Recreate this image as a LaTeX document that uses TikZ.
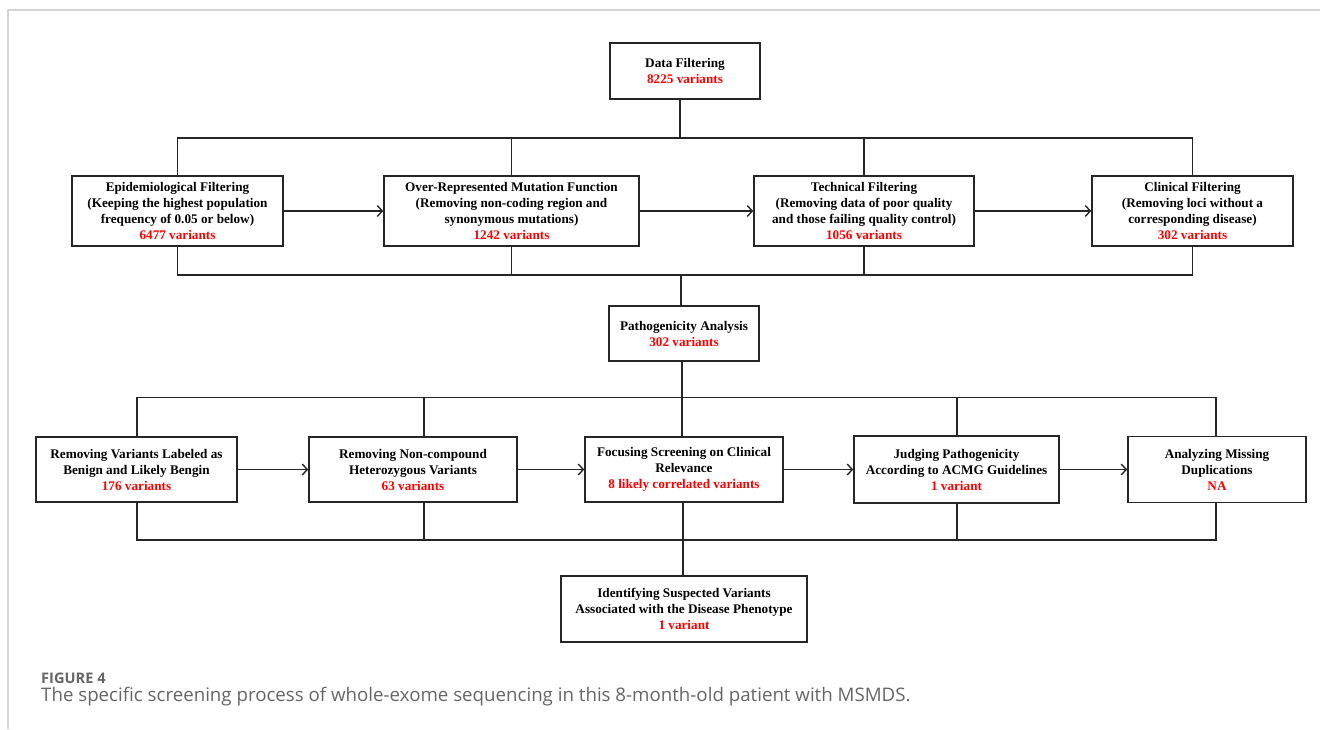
\documentclass[tikz,border=0pt]{standalone}
\usepackage{fontspec}
\setmainfont{Liberation Serif}
\newfontfamily\capfont{Open Sans}
\usetikzlibrary{arrows.meta,calc}
\definecolor{capgray}{HTML}{666666}
\definecolor{framegray}{HTML}{D4D4D4}
\definecolor{numred}{HTML}{FF0000}
\begin{document}
\begin{tikzpicture}[x=1pt,y=-1pt,
  box/.style={draw=black!85,line width=1.6pt,align=center,inner sep=0pt,
    font=\bfseries\fontsize{13.2}{16}\selectfont},
  conn/.style={draw=black!85,line width=1.5pt},
  arr/.style={draw=black!85,line width=1.5pt,-{Straight Barb[length=5pt,width=11pt,line width=1.4pt]}}]
\useasboundingbox (0,0) rectangle (1320,729);
\fill[white] (0,0) rectangle (1320,729);
\draw[framegray,line width=1.5pt] (8,729) -- (8,10) -- (1320,10);

% top
\node[box,minimum width=150pt,minimum height=56pt] (df) at (685,71)
  {Data Filtering\\\textcolor{numred}{8225 variants}};

% row 1
\node[box,minimum width=211pt,minimum height=70pt] (epi) at (177.5,211)
  {Epidemiological Filtering\\(Keeping the highest population\\frequency of 0.05 or below)\\\textcolor{numred}{6477 variants}};
\node[box,minimum width=255pt,minimum height=70pt] (over) at (511.5,211)
  {Over-Represented Mutation Function\\(Removing non-coding region and\\synonymous mutations)\\\textcolor{numred}{1242 variants}};
\node[box,minimum width=220pt,minimum height=70pt] (tech) at (864,211)
  {Technical Filtering\\(Removing data of poor quality\\and those failing quality control)\\\textcolor{numred}{1056 variants}};
\node[box,minimum width=201pt,minimum height=70pt] (clin) at (1192.5,211)
  {Clinical Filtering\\(Removing loci without a\\corresponding disease)\\\textcolor{numred}{302 variants}};

% middle
\node[box,minimum width=150pt,minimum height=55pt] (path) at (684,333.5)
  {Pathogenicity Analysis\\\textcolor{numred}{302 variants}};

% row 2
\node[box,minimum width=201pt,minimum height=65pt] (rb) at (136.5,469.5)
  {Removing Variants Labeled as\\Benign and Likely Bengin\\\textcolor{numred}{176 variants}};
\node[box,minimum width=208pt,minimum height=65pt] (nc) at (413,469.5)
  {Removing Non-compound\\Heterozygous Variants\\\textcolor{numred}{63 variants}};
\node[box,minimum width=198pt,minimum height=65pt] (fs) at (684,469.5)
  {Focusing Screening on Clinical\\Relevance\\\textcolor{numred}{8 likely correlated variants}};
\node[box,minimum width=205pt,minimum height=67pt] (jp) at (956.5,469.5)
  {Judging Pathogenicity\\According to ACMG Guidelines\\\textcolor{numred}{1 variant}};
\node[box,minimum width=178pt,minimum height=66pt] (am) at (1217,469.5)
  {Analyzing Missing\\Duplications\\\textcolor{numred}{NA}};

% bottom
\node[box,minimum width=246pt,minimum height=66pt] (id) at (684,609)
  {Identifying Suspected Variants\\Associated with the Disease Phenotype\\\textcolor{numred}{1 variant}};

% bus coordinates
\coordinate (ba) at (680,138);
\coordinate (bb) at (681,275);
\coordinate (bc) at (682,397.5);
\coordinate (bd) at (683,540);

% bus 1
\draw[conn] (df.south -| ba) -- (ba);
\draw[conn] (epi.north) -- (epi.north |- ba) -- (clin.north |- ba) -- (clin.north);
\draw[conn] (over.north) -- (over.north |- ba);
\draw[conn] (tech.north) -- (tech.north |- ba);

% row 1 arrows
\draw[arr] (epi.east) -- (over.west);
\draw[arr] (over.east) -- (tech.west);
\draw[arr] (tech.east) -- (clin.west);

% bus 2
\draw[conn] (epi.south) -- (epi.south |- bb) -- (clin.south |- bb) -- (clin.south);
\draw[conn] (over.south) -- (over.south |- bb);
\draw[conn] (tech.south) -- (tech.south |- bb);
\draw[conn] (bb) -- (bb |- path.north);

% bus 3
\coordinate (c1) at (137,397.5);
\coordinate (c2) at (424,397.5);
\coordinate (c4) at (957,397.5);
\coordinate (c5) at (1216,397.5);
\draw[conn] (path.south -| bc) -- (bc |- fs.north);
\draw[conn] (c1 |- rb.north) -- (c1) -- (c5) -- (c5 |- am.north);
\draw[conn] (c2) -- (c2 |- nc.north);
\draw[conn] (c4) -- (c4 |- jp.north);

% row 2 arrows
\draw[arr] (rb.east) -- (nc.west);
\draw[arr] (nc.east) -- (fs.west);
\draw[arr] (fs.east) -- (jp.west);
\draw[arr] (jp.east) -- (am.west);

% bus 4
\coordinate (d1) at (137,540);
\coordinate (d2) at (424,540);
\coordinate (d4) at (957,540);
\coordinate (d5) at (1216,540);
\draw[conn] (d1 |- rb.south) -- (d1) -- (d5) -- (d5 |- am.south);
\draw[conn] (d2 |- nc.south) -- (d2);
\draw[conn] (d4 |- jp.south) -- (d4);
\draw[conn] (bd |- fs.south) -- (bd |- id.north);

% caption
\node[anchor=west,inner sep=0pt,text=capgray,font=\capfont\bfseries\fontsize{14.6}{17}\selectfont] (fig) at (41,678) {FIGURE 4};
\node[anchor=west,inner sep=0pt,text=capgray,font=\capfont\fontsize{18.7}{22}\selectfont] (cap) at (41,697)
  {The specific screening process of whole-exome sequencing in this 8-month-old patient with MSMDS.};
\end{tikzpicture}
\end{document}
